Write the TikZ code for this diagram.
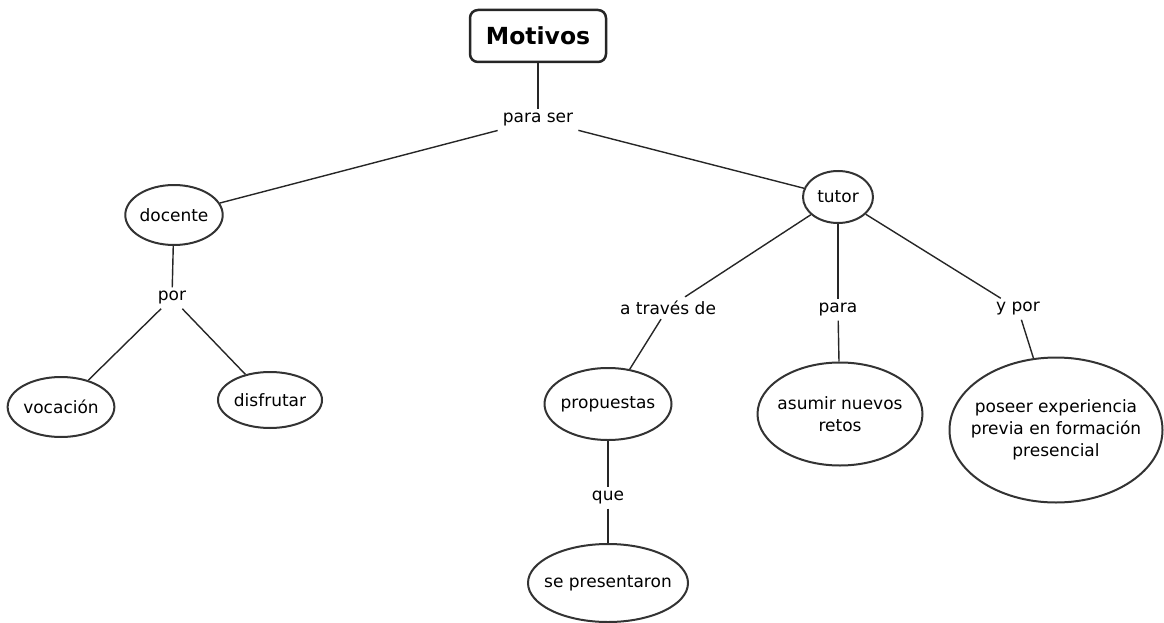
\documentclass[tikz,border=0pt]{standalone}
\usepackage{fontspec}
\setmainfont{DejaVu Sans}
\usetikzlibrary{shapes.geometric}
\begin{document}
\begin{tikzpicture}[x=1pt,y=-1pt,
  concept/.style={ellipse, draw=black!80, line width=2pt, inner sep=0pt, align=center,
    font=\fontsize{17}{22}\selectfont},
  linkword/.style={inner xsep=5pt, inner ysep=4pt, font=\fontsize{17}{20}\selectfont},
  conn/.style={line width=1.4pt, draw=black!85},
  rootbox/.style={draw=black!85, line width=2.5pt, rounded corners=8pt, minimum width=136pt,
    minimum height=52pt, inner sep=0pt, font=\bfseries\fontsize{23.5}{26}\selectfont}]
\useasboundingbox (0,0) rectangle (1164,623);
\node[rootbox] (motivos) at (538,36) {Motivos};
\node[linkword] (parasar) at (538,120) {para ser};
\node[concept, minimum width=96pt, minimum height=60pt] (docente) at (174,215) {docente};
\node[concept, minimum width=70pt, minimum height=52pt] (tutor) at (838,197) {tutor};
\node[linkword] (por) at (172,298) {por};
\node[concept, minimum width=100pt, minimum height=60pt] (vocacion) at (61,407) {vocación};
\node[concept, minimum width=104pt, minimum height=56pt] (disfrutar) at (270,400) {disfrutar};
\node[linkword] (atraves) at (668,308) {a través de};
\node[linkword] (para) at (838,310) {para};
\node[linkword] (ypor) at (1018,309) {y por};
\node[concept, inner xsep=-3pt, minimum width=127pt, minimum height=72pt] (propuestas) at (608,404) {propuestas};
\node[concept, inner xsep=-5pt, minimum width=165pt, minimum height=103pt] (asumir) at (840,414) {asumir nuevos\\retos};
\node[concept, inner xsep=-10pt, minimum width=213pt, minimum height=145pt] (poseer) at (1056,430) {poseer experiencia\\previa en formación\\presencial};
\node[linkword] (que) at (608,498) {que};
\node[concept, inner xsep=-8pt, minimum width=160pt, minimum height=78pt] (sepres) at (608,583) {se presentaron};

\draw[conn] (motivos) -- (parasar);
\draw[conn] (parasar) -- (docente);
\draw[conn] (parasar) -- (tutor);
\draw[conn] (docente) -- (por);
\draw[conn] (por) -- (vocacion);
\draw[conn] (por) -- (disfrutar);
\draw[conn] (tutor) -- (atraves);
\draw[conn] (tutor) -- (para);
\draw[conn] (tutor) -- (ypor);
\draw[conn] (atraves) -- (propuestas);
\draw[conn] (para) -- (asumir);
\draw[conn] (ypor) -- (poseer);
\draw[conn] (propuestas) -- (que);
\draw[conn] (que) -- (sepres);
\end{tikzpicture}
\end{document}
